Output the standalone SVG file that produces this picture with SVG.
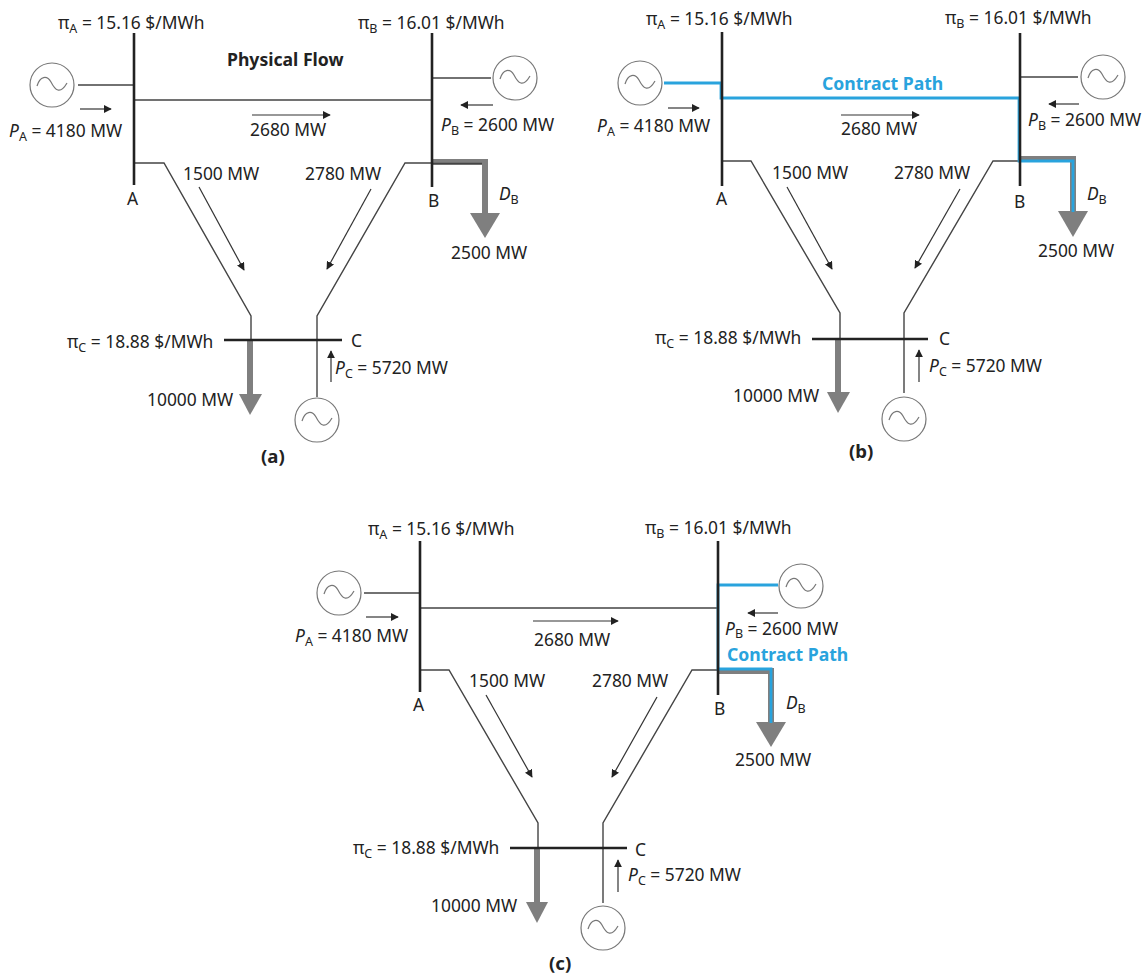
<svg xmlns="http://www.w3.org/2000/svg" width="1148" height="976" viewBox="0 0 1148 976">
<style>
text{font-family:"Noto Sans","Open Sans","Liberation Sans",sans-serif;font-size:17.4px;fill:#222;transform:translate(0,1px)}
.b{font-weight:700;font-size:17.6px}
.cp{font-weight:700;font-size:17.6px;fill:#29a3dd}
.cap{font-weight:700;font-size:18.6px}
.s{font-size:12.5px}
.i{font-style:italic}
.bus{stroke:#222;stroke-width:2.6;fill:none}
.ln{stroke:#444;stroke-width:1.4;fill:none}
.blue{stroke:#29a3dd;stroke-width:2.8;fill:none}
.thin{stroke:#333;stroke-width:1.2;fill:none}
.gs{stroke:#7f7f7f;stroke-width:6;fill:none}
.gh{fill:#7f7f7f}
.gc{fill:none;stroke:#777;stroke-width:1.2}
</style>
<defs>
<marker id="ah" viewBox="0 0 10 10" refX="9" refY="5" markerWidth="8" markerHeight="8" markerUnits="userSpaceOnUse" orient="auto"><path d="M0 0L10 5L0 10Z" fill="#222"/></marker>
<g id="gen"><circle r="22" class="gc" fill="#fff"/><path d="M-15 1C-12-9-5-10 -1-3C3 5 8 10 15-2" class="gc"/></g>
</defs>

<g id="connectors-a">
<path class="ln" d="M78 85H134M134 100H432M432 78H491M134 163H164L251 316V340M432 163H405L317 316V340M317 340V397"/>
<path class="thin" marker-end="url(#ah)" d="M80 109H111"/>
<path class="thin" marker-end="url(#ah)" d="M252 115H330"/>
<path class="thin" marker-end="url(#ah)" d="M493 105H461"/>
<path class="thin" marker-end="url(#ah)" d="M199 187L244 270"/>
<path class="thin" marker-end="url(#ah)" d="M371 189L327 269"/>
<path class="thin" marker-end="url(#ah)" d="M331 382V351"/>
<path class="gs" d="M432 162H485V214"/><path class="ln" d="M432 163.500H482"/><path class="gh" d="M470 213H500L485 238Z"/>
<path class="gs" d="M250 340V395"/><path class="gh" d="M239 394H262L250 415Z"/>
</g>
<g id="bus-a-a"><path class="bus" d="M134 33V185"/><use href="#gen" x="52" y="85"/><text x="58" y="28">π<tspan class="s" dy="4">A</tspan><tspan dy="-4"> = 15.16 $/MWh</tspan></text><text x="9" y="136"><tspan class="i">P</tspan><tspan class="s" dy="4">A</tspan><tspan dy="-4"> = 4180 MW</tspan></text><text x="127" y="204">A</text></g>
<g id="bus-b-a"><path class="bus" d="M432 33V187"/><use href="#gen" x="515" y="78"/><text x="358" y="28">π<tspan class="s" dy="4">B</tspan><tspan dy="-4"> = 16.01 $/MWh</tspan></text><text x="441" y="130"><tspan class="i">P</tspan><tspan class="s" dy="4">B</tspan><tspan dy="-4"> = 2600 MW</tspan></text><text x="428" y="206">B</text><text x="499" y="199"><tspan class="i">D</tspan><tspan class="s" dy="4">B</tspan></text><text x="451" y="258">2500 MW</text></g>
<g id="bus-c-a"><path class="bus" d="M224 340H342"/><use href="#gen" x="317" y="420"/><text x="67" y="347">π<tspan class="s" dy="4">C</tspan><tspan dy="-4"> = 18.88 $/MWh</tspan></text><text x="351" y="346">C</text><text x="335" y="373"><tspan class="i">P</tspan><tspan class="s" dy="4">C</tspan><tspan dy="-4"> = 5720 MW</tspan></text><text x="147" y="405">10000 MW</text></g>
<g id="labels-a"><text class="b" x="227" y="65">Physical Flow</text><text x="250" y="135">2680 MW</text><text x="183" y="179">1500 MW</text><text x="305" y="179">2780 MW</text><text class="cap" x="261" y="462">(a)</text></g>

<g id="connectors-b">
<path class="ln" d="M722 161H751L840 313V339M1020 161H993L904 313V339M904 339V393M1020 77H1078"/>
<path class="thin" marker-end="url(#ah)" d="M668 108H699"/>
<path class="thin" marker-end="url(#ah)" d="M841 115H919"/>
<path class="thin" marker-end="url(#ah)" d="M1079 104H1049"/>
<path class="thin" marker-end="url(#ah)" d="M787 187L832 269"/>
<path class="thin" marker-end="url(#ah)" d="M960 189L915 268"/>
<path class="thin" marker-end="url(#ah)" d="M919 382V350"/>
<path class="gs" d="M838 339V393"/><path class="gh" d="M827 392H850L838 413Z"/>
<path class="gs" d="M1020 159H1073V212"/><path class="gh" d="M1058 211H1088L1073 237Z"/>
<path class="blue" d="M664 83H721V98H1019V161H1073V212"/>
</g>
<g id="bus-a-b"><path class="bus" d="M722 32V186"/><use href="#gen" x="640" y="83"/><text x="646" y="24">π<tspan class="s" dy="4">A</tspan><tspan dy="-4"> = 15.16 $/MWh</tspan></text><text x="597" y="131"><tspan class="i">P</tspan><tspan class="s" dy="4">A</tspan><tspan dy="-4"> = 4180 MW</tspan></text><text x="716" y="204">A</text></g>
<g id="bus-b-b"><path class="bus" d="M1020 33V186"/><use href="#gen" x="1103" y="77"/><text x="945" y="23">π<tspan class="s" dy="4">B</tspan><tspan dy="-4"> = 16.01 $/MWh</tspan></text><text x="1028" y="125"><tspan class="i">P</tspan><tspan class="s" dy="4">B</tspan><tspan dy="-4"> = 2600 MW</tspan></text><text x="1014" y="207">B</text><text x="1087" y="199"><tspan class="i">D</tspan><tspan class="s" dy="4">B</tspan></text><text x="1038" y="256">2500 MW</text></g>
<g id="bus-c-b"><path class="bus" d="M812 339H928"/><use href="#gen" x="904" y="419"/><text x="655" y="343">π<tspan class="s" dy="4">C</tspan><tspan dy="-4"> = 18.88 $/MWh</tspan></text><text x="939" y="344">C</text><text x="929" y="371"><tspan class="i">P</tspan><tspan class="s" dy="4">C</tspan><tspan dy="-4"> = 5720 MW</tspan></text><text x="733" y="401">10000 MW</text></g>
<g id="labels-b"><text class="cp" x="822" y="89">Contract Path</text><text x="841" y="134">2680 MW</text><text x="772" y="178">1500 MW</text><text x="894" y="178">2780 MW</text><text class="cap" x="849" y="457">(b)</text></g>

<g id="connectors-c">
<path class="ln" d="M364 593H420M420 608H718M420 670H449L538 823V848M718 670H692L603 823V848M603 848V903"/>
<path class="thin" marker-end="url(#ah)" d="M366 617H398"/>
<path class="thin" marker-end="url(#ah)" d="M533 621H618"/>
<path class="thin" marker-end="url(#ah)" d="M778 613H748"/>
<path class="thin" marker-end="url(#ah)" d="M486 695L532 777"/>
<path class="thin" marker-end="url(#ah)" d="M657 697L612 777"/>
<path class="thin" marker-end="url(#ah)" d="M618 892V860"/>
<path class="gs" d="M537 848V903"/><path class="gh" d="M526 902H548L537 923Z"/>
<path class="gs" d="M718 671H771V723"/><path class="gh" d="M756 722H786L771 747Z"/>
<path class="blue" d="M778 585H718V669H771V723"/>
</g>
<g id="bus-a-c"><path class="bus" d="M420 541V692"/><use href="#gen" x="339" y="593"/><text x="368" y="534">π<tspan class="s" dy="4">A</tspan><tspan dy="-4"> = 15.16 $/MWh</tspan></text><text x="295" y="641"><tspan class="i">P</tspan><tspan class="s" dy="4">A</tspan><tspan dy="-4"> = 4180 MW</tspan></text><text x="413" y="710">A</text></g>
<g id="bus-b-c"><path class="bus" d="M718 541V695"/><use href="#gen" x="801" y="586"/><text x="645" y="533">π<tspan class="s" dy="4">B</tspan><tspan dy="-4"> = 16.01 $/MWh</tspan></text><text x="725" y="634"><tspan class="i">P</tspan><tspan class="s" dy="3">B</tspan><tspan dy="-3"> = 2600 MW</tspan></text><text x="714" y="714">B</text><text x="786" y="708"><tspan class="i">D</tspan><tspan class="s" dy="4">B</tspan></text><text x="735" y="765">2500 MW</text></g>
<g id="bus-c-c"><path class="bus" d="M510 848H627"/><use href="#gen" x="603" y="928"/><text x="353" y="853">π<tspan class="s" dy="4">C</tspan><tspan dy="-4"> = 18.88 $/MWh</tspan></text><text x="635" y="855">C</text><text x="628" y="880"><tspan class="i">P</tspan><tspan class="s" dy="4">C</tspan><tspan dy="-4"> = 5720 MW</tspan></text><text x="431" y="911">10000 MW</text></g>
<g id="labels-c"><text class="cp" x="727" y="660">Contract Path</text><text x="534" y="645">2680 MW</text><text x="469" y="686">1500 MW</text><text x="592" y="686">2780 MW</text><text class="cap" x="549" y="969">(c)</text></g>
</svg>
